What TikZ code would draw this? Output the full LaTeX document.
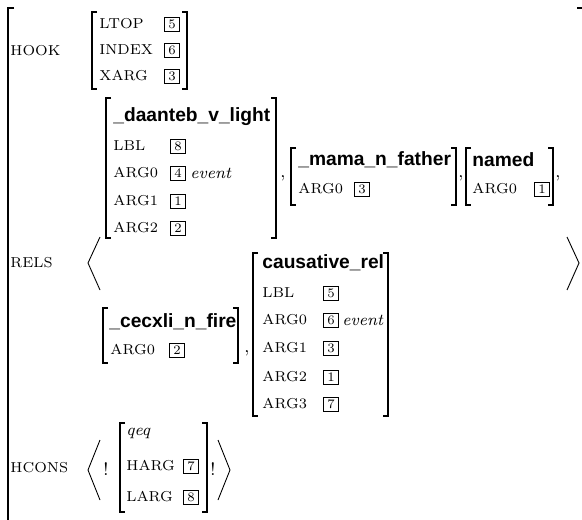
\documentclass[tikz,border=0pt]{standalone}
\usepackage{fontspec}
\newfontfamily\tyfont{Liberation Sans}
\begin{document}
\begin{tikzpicture}[x=0.5pt,y=-0.5pt,
  brk/.style={line width=0.8pt},
  ang/.style={line width=0.45pt},
  feat/.style={anchor=west,inner sep=0pt,font=\fontsize{7.2}{9}\selectfont},
  typ/.style={anchor=west,inner sep=0pt,font=\fontsize{9.6}{11}\selectfont\tyfont\bfseries},
  tyi/.style={anchor=west,inner sep=0pt,font=\fontsize{8.3}{9}\selectfont\itshape},
  tag/.style={draw,line width=0.4pt,inner sep=0pt,minimum width=7.5pt,minimum height=7pt,font=\fontsize{6.5}{7}\selectfont},
  pun/.style={anchor=base,inner sep=0pt,font=\fontsize{9}{10}\selectfont}]
\useasboundingbox (0,0) rectangle (582,519);
\clip (0,0) rectangle (582,519);
% outer bracket
\draw[brk] (14,8) -- (8,8) -- (8,530);
\draw[brk] (577,8) -- (583,8) -- (583,530);
% HOOK
\node[feat] (hook) at (10,51) {HOOK};
\draw[brk] (97,12) -- (92,12) -- (92,89) -- (97,89);
\draw[brk] (182,12) -- (187,12) -- (187,89) -- (182,89);
\node[feat] (ltop) at (99,24) {LTOP};  \node[tag] (tg1) at (172,24) {5};
\node[feat] (index) at (99,50) {INDEX}; \node[tag] (tg2) at (172,50) {6};
\node[feat] (xarg) at (99,76) {XARG};  \node[tag] (tg3) at (172,76) {3};
% RELS
\node[feat] (rels) at (10,263) {RELS};
\draw[ang] (100,237) -- (88,263) -- (100,290);
\draw[ang] (567,237) -- (579,263) -- (567,290);
% daanteb
\draw[brk] (111,98) -- (106,98) -- (106,238) -- (111,238);
\draw[brk] (271,98) -- (276,98) -- (276,238) -- (271,238);
\node[typ] (t1) at (113,117) {\_daanteb\_v\_light};
\node[feat] (d1) at (113,146) {LBL};  \node[tag] (dt1) at (178,146) {8};
\node[feat] (d2) at (113,173) {ARG0}; \node[tag] (dt2) at (178,173) {4};
\node[tyi] (ev1) at (190,173) {event};
\node[feat] (d3) at (113,201) {ARG1}; \node[tag] (dt3) at (178,201) {1};
\node[feat] (d4) at (113,228) {ARG2}; \node[tag] (dt4) at (178,228) {2};
\node[pun] (c1) at (283,177) {,};
% mama
\draw[brk] (296,148) -- (291,148) -- (291,205) -- (296,205);
\draw[brk] (451,148) -- (456,148) -- (456,205) -- (451,205);
\node[typ] (t2) at (298,160) {\_mama\_n\_father};
\node[feat] (m1) at (298,189) {ARG0}; \node[tag] (mt1) at (362,189) {3};
\node[pun] (c2) at (461,177) {,};
% named
\draw[brk] (471,148) -- (466,148) -- (466,205) -- (471,205);
\draw[brk] (548,148) -- (553,148) -- (553,205) -- (548,205);
\node[typ] (t3) at (472,160) {named};
\node[feat] (n1) at (472,189) {ARG0}; \node[tag] (nt1) at (542,189) {1};
\node[pun] (c3) at (558,177) {,};
% cecxli
\draw[brk] (108,308) -- (103,308) -- (103,363) -- (108,363);
\draw[brk] (233,308) -- (238,308) -- (238,363) -- (233,363);
\node[typ] (t4) at (109,322) {\_cecxli\_n\_fire};
\node[feat] (f1) at (110,350) {ARG0}; \node[tag] (ft1) at (177,350) {2};
\node[pun] (c4) at (247,352) {,};
% causative
\draw[brk] (258,253) -- (253,253) -- (253,416) -- (258,416);
\draw[brk] (383,253) -- (388,253) -- (388,416) -- (383,416);
\node[typ] (t5) at (262,263) {causative\_rel};
\node[feat] (k1) at (262,293) {LBL};  \node[tag] (kt1) at (331,293) {5};
\node[feat] (k2) at (262,320) {ARG0}; \node[tag] (kt2) at (331,320) {6};
\node[tyi] (ev2) at (342,320) {event};
\node[feat] (k3) at (262,348) {ARG1}; \node[tag] (kt3) at (331,348) {3};
\node[feat] (k4) at (262,377) {ARG2}; \node[tag] (kt4) at (331,377) {1};
\node[feat] (k5) at (262,404) {ARG3}; \node[tag] (kt5) at (331,404) {7};
% HCONS
\node[feat] (hcons) at (10,468) {HCONS};
\draw[ang] (100,440) -- (88,470) -- (100,500);
\node[pun,anchor=center] (ex1) at (106,469) {!};
\draw[brk] (125,423) -- (120,423) -- (120,512) -- (125,512);
\draw[brk] (202,423) -- (207,423) -- (207,512) -- (202,512);
\node[tyi] (q) at (126,433) {qeq};
\node[feat] (h1) at (126,466) {HARG}; \node[tag] (ht1) at (191,466) {7};
\node[feat] (h2) at (126,497) {LARG}; \node[tag] (ht2) at (191,497) {8};
\node[pun,anchor=center] (ex2) at (213,469) {!};
\draw[ang] (218,440) -- (230,470) -- (218,500);
\end{tikzpicture}
\end{document}
